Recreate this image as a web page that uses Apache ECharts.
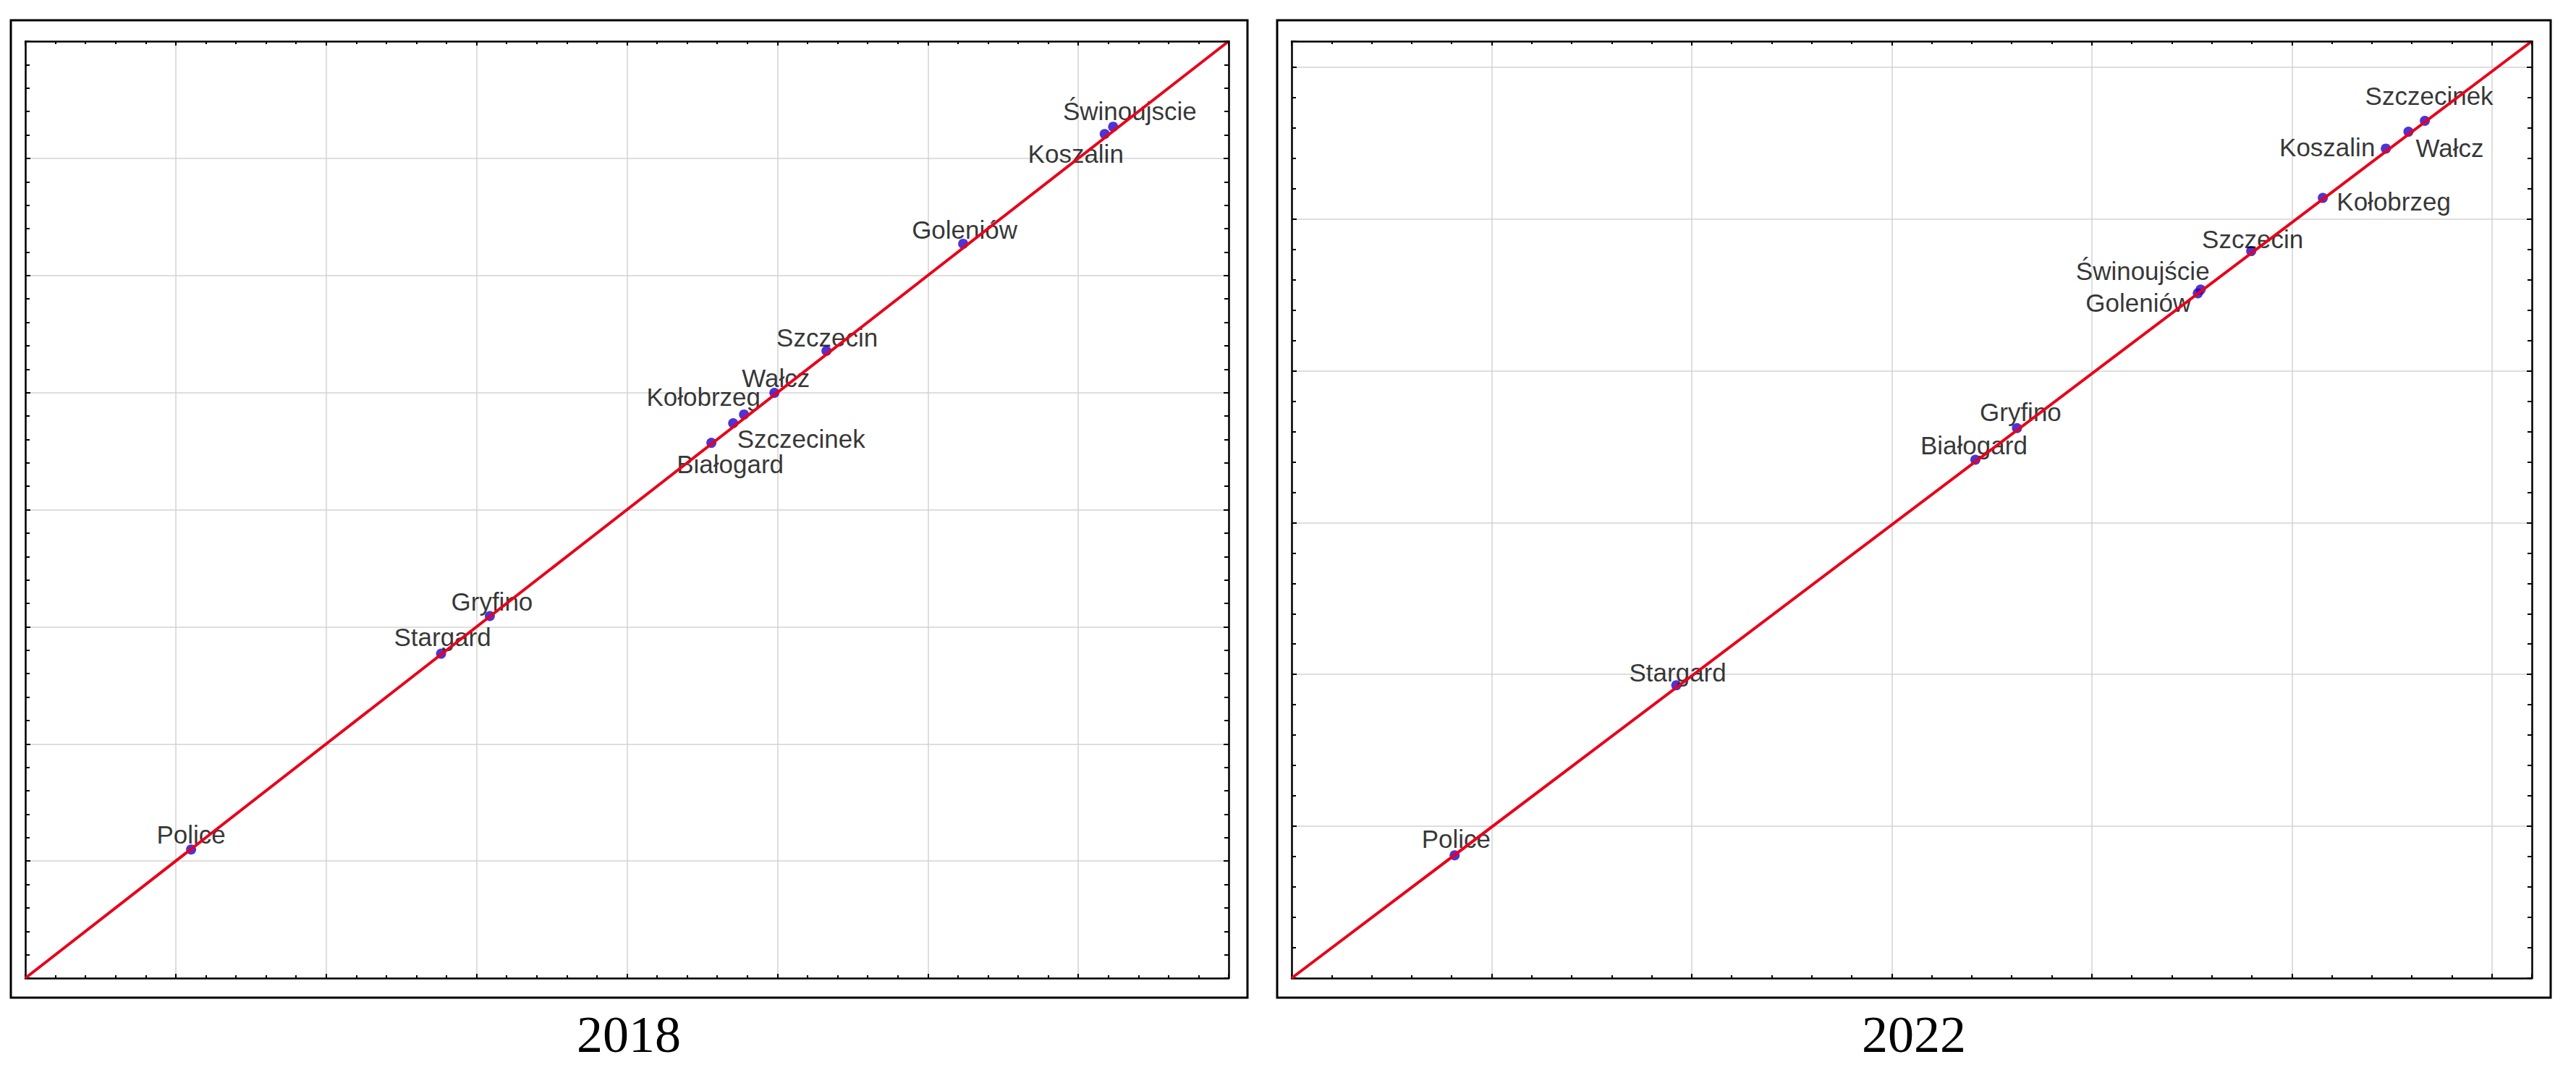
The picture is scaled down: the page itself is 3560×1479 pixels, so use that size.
<!DOCTYPE html>
<html><head><meta charset="utf-8">
<script src="https://cdn.jsdelivr.net/npm/echarts@6/dist/echarts.min.js"></script>
<style>html,body{margin:0;padding:0;background:#fff}#c{width:3560px;height:1479px}</style>
</head><body><div id="c"></div><script>
// ---- data ----
const cities2018 = ['Police','Stargard','Gryfino','Białogard','Szczecinek','Kołobrzeg','Wałcz','Szczecin','Goleniów','Świnoujscie','Koszalin'];
const x2018 = [1.102, 2.764, 3.088, 4.561, 4.706, 4.778, 4.980, 5.326, 6.235, 7.232, 7.176];
const y2018 = [1.098, 2.770, 3.092, 4.571, 4.738, 4.813, 4.998, 5.356, 6.271, 7.270, 7.208];

const cities2022 = ['Police','Stargard','Białogard','Gryfino','Goleniów','Świnoujście','Szczecin','Kołobrzeg','Koszalin','Wałcz','Szczecinek'];
const x2022 = [0.815, 1.923, 3.418, 3.626, 4.530, 4.544, 4.797, 5.155, 5.470, 5.583, 5.665];
const y2022 = [0.809, 1.929, 3.414, 3.622, 4.510, 4.534, 4.788, 5.138, 5.463, 5.574, 5.646];

const xRange2018 = [0, 8], yRange2018 = [0, 8];
const xRange2022 = [0, 6.2], yRange2022 = [0, 6.17];
const panelTitles = ['2018', '2022'];

// ---- label placement (style) ----
const labelOffsets2018 = {
  'Police':[0,-21], 'Stargard':[2,-23], 'Gryfino':[3,-20], 'Białogard':[26,29],
  'Szczecinek':[94,21], 'Kołobrzeg':[-56,-24], 'Wałcz':[2,-20], 'Szczecin':[1,-18],
  'Goleniów':[2,-19], 'Świnoujscie':[23,-22], 'Koszalin':[-40,27]
};
const labelOffsets2022 = {
  'Szczecinek':[6,-34], 'Wałcz':[57,22], 'Koszalin':[-81,-2], 'Kołobrzeg':[98,5],
  'Szczecin':[2,-17], 'Świnoujście':[-80,-26], 'Goleniów':[-82,13], 'Gryfino':[5,-22],
  'Białogard':[-2,-20], 'Stargard':[2,-18], 'Police':[2,-23]
};

const grids = [
  {left: 35, top: 57, width: 1663, height: 1295},
  {left: 1785, top: 57, width: 1714, height: 1295}
];

function axis(dim, gridIndex, range, position, main) {
  const isX = dim === 'x';
  return {
    type: 'value', gridIndex, min: range[0], max: range[1], interval: 1, position,
    axisLine: {show: true, onZero: false, lineStyle: {color: '#000', width: 2.5}},
    axisTick: {show: true, inside: true, length: isX ? 6 : 7, lineStyle: {color: '#000', width: 2}},
    minorTick: {show: true, splitNumber: 5, length: isX ? 4 : 6, lineStyle: {color: '#000', width: 2}},
    axisLabel: {show: false},
    splitLine: {show: main, lineStyle: {color: '#d3d3d3', width: 1.5}},
    minorSplitLine: {show: false},
    splitArea: {show: false},
    z: main ? 1 : 5
  };
}

function points(names, xs, ys, offsets) {
  return names.map((n, i) => ({
    name: n, value: [xs[i], ys[i]],
    label: {offset: offsets[n]}
  }));
}

const labelStyle = {
  show: true, position: 'inside', formatter: p => p.name,
  fontFamily: '"Liberation Sans", Arial, sans-serif', fontSize: 35, color: '#000',
  align: 'center', verticalAlign: 'middle'
};

const option = {
  animation: false,
  backgroundColor: '#fff',
  grid: grids,
  xAxis: [
    axis('x', 0, xRange2018, 'bottom', true), axis('x', 0, xRange2018, 'top', false),
    axis('x', 1, xRange2022, 'bottom', true), axis('x', 1, xRange2022, 'top', false)
  ],
  yAxis: [
    axis('y', 0, yRange2018, 'left', true), axis('y', 0, yRange2018, 'right', false),
    axis('y', 1, yRange2022, 'left', true), axis('y', 1, yRange2022, 'right', false)
  ],
  series: [
    {type: 'scatter', xAxisIndex: 0, yAxisIndex: 0, symbol: 'circle', symbolSize: 14,
     itemStyle: {color: '#2200cc'}, label: labelStyle, z: 2,
     data: points(cities2018, x2018, y2018, labelOffsets2018)},
    {type: 'line', xAxisIndex: 0, yAxisIndex: 0, symbol: 'none', silent: true, z: 3,
     lineStyle: {color: '#e8001a', width: 4},
     data: [[xRange2018[0], yRange2018[0]], [xRange2018[1], yRange2018[1]]]},
    {type: 'scatter', xAxisIndex: 2, yAxisIndex: 2, symbol: 'circle', symbolSize: 14,
     itemStyle: {color: '#2200cc'}, label: labelStyle, z: 2,
     data: points(cities2022, x2022, y2022, labelOffsets2022)},
    {type: 'line', xAxisIndex: 2, yAxisIndex: 2, symbol: 'none', silent: true, z: 3,
     lineStyle: {color: '#e8001a', width: 4},
     data: [[xRange2022[0], yRange2022[0]], [xRange2022[1], yRange2022[1]]]}
  ],
  graphic: [
    {type: 'rect', shape: {x: 15, y: 28, width: 1709, height: 1351}, style: {fill: 'none', stroke: '#000', lineWidth: 3}, silent: true},
    {type: 'rect', shape: {x: 1765, y: 28, width: 1760, height: 1351}, style: {fill: 'none', stroke: '#000', lineWidth: 3}, silent: true},
    {type: 'text', x: 869, y: 1430, style: {text: panelTitles[0], font: '72px "Liberation Serif", "Times New Roman", serif', fill: '#000', align: 'center', verticalAlign: 'middle'}},
    {type: 'text', x: 2645, y: 1430, style: {text: panelTitles[1], font: '72px "Liberation Serif", "Times New Roman", serif', fill: '#000', align: 'center', verticalAlign: 'middle'}}
  ]
};

const chart = echarts.init(document.getElementById('c'), null, {renderer: 'svg', width: 3560, height: 1479});
chart.setOption(option);
</script></body></html>
